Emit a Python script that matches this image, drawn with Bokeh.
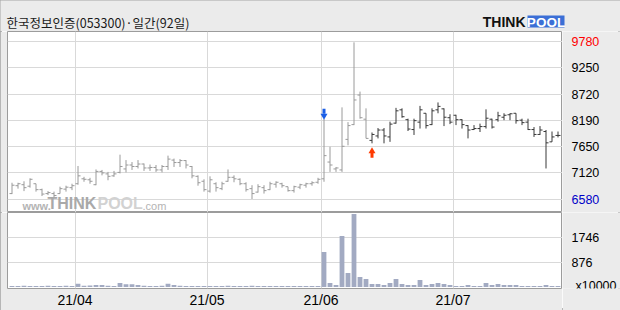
from bokeh.plotting import figure
from bokeh.models import Range1d, FixedTicker, Label, ColumnDataSource
from bokeh.layouts import column, row
from bokeh.core.properties import value
from bokeh.embed import file_html
from bokeh.resources import INLINE

title_text = "한국정보인증(053300)·일간(92일)"
month_idx = [11, 33, 52, 74]
month_labels = ["21/04", "21/05", "21/06", "21/07"]
price_ticks = [6580, 7120, 7650, 8190, 8720, 9250, 9780]
price_tick_colors = ["#0000c8", "#000000", "#000000", "#000000", "#000000", "#000000", "#ff0000"]
vol_ticks = [876, 1746]
vol_unit = "x10000"
sell_idx = [52]
buy_idx = [60]

opens = [
    6700, 6860, 6880, 6850, 6900, 6780, 6700, 6700, 6700, 6790,
    6820, 6900, 7000, 6980, 6880, 7150, 7100, 7060, 7130, 7200,
    7280, 7250, 7300, 7220, 7230, 7180, 7250, 7380, 7330, 7370,
    7250, 7050, 6950, 6750, 6900, 6800, 6950, 7030, 6990, 6900,
    6800, 6730, 6820, 6780, 6890, 6900, 6840, 6760, 6830, 6870,
    6900, 6930, 7000, 7340, 7200, 7180, 7800, 8100, 8700, 8210,
    7780, 7870, 7990, 7850, 8130, 8400, 8200, 8000, 8150, 8330,
    8100, 8400, 8420, 8240, 8290, 8200, 8080, 8000, 8020, 8060,
    8210, 8200, 8250, 8300, 8330, 8190, 8150, 8000, 7900, 7960,
    7750, 7880]
highs = [
    6920, 6920, 6950, 7010, 6900, 6800, 6750, 6740, 6840, 6860,
    6900, 7260, 7040, 7020, 7190, 7180, 7140, 7160, 7490, 7380,
    7340, 7380, 7310, 7290, 7280, 7280, 7470, 7410, 7400, 7380,
    7260, 7070, 6990, 7050, 6930, 6940, 7190, 7070, 7010, 6930,
    6870, 6890, 6870, 6940, 6950, 6920, 6840, 6860, 6900, 6920,
    6950, 7020, 8220, 7650, 7240, 8450, 8150, 9770, 8770, 8430,
    7940, 8030, 8030, 8160, 8440, 8430, 8220, 8220, 8480, 8330,
    8430, 8550, 8430, 8310, 8300, 8210, 8090, 8090, 8120, 8410,
    8220, 8360, 8330, 8330, 8330, 8220, 8220, 8050, 8070, 7990,
    7960, 7960]
lows = [
    6690, 6800, 6750, 6820, 6740, 6650, 6670, 6630, 6700, 6740,
    6770, 6880, 6940, 6900, 6870, 7070, 6970, 7040, 7110, 7130,
    7180, 7210, 7160, 7160, 7140, 7130, 7180, 7240, 7240, 7210,
    7010, 6860, 6740, 6720, 6740, 6770, 6940, 6930, 6870, 6740,
    6590, 6720, 6700, 6770, 6820, 6820, 6740, 6720, 6790, 6820,
    6860, 6900, 6940, 7140, 7140, 7140, 7680, 8090, 8220, 7820,
    7720, 7820, 7720, 7750, 8120, 8240, 7970, 7890, 8020, 8020,
    8090, 8330, 8070, 8110, 8090, 8020, 7820, 7990, 7950, 8020,
    8020, 8160, 8190, 8190, 8120, 8090, 7990, 7850, 7890, 7210,
    7750, 7840]
closes = [
    6870, 6900, 6820, 6990, 6780, 6690, 6720, 6660, 6800, 6830,
    6860, 7060, 6990, 6950, 7150, 7120, 7050, 7100, 7250, 7280,
    7250, 7300, 7220, 7230, 7180, 7250, 7400, 7330, 7370, 7280,
    7060, 6920, 6780, 6980, 6820, 6900, 7030, 7000, 6900, 6780,
    6700, 6840, 6760, 6900, 6930, 6860, 6760, 6840, 6880, 6900,
    6920, 6990, 7470, 7280, 7220, 7660, 8080, 8600, 8240, 7820,
    7900, 7990, 7870, 8110, 8380, 8260, 8010, 8180, 8400, 8080,
    8380, 8470, 8250, 8150, 8200, 8100, 7990, 8020, 8060, 8230,
    8050, 8280, 8290, 8320, 8180, 8140, 8000, 7900, 7990, 7730,
    7850, 7880]
volumes = [
    40, 35, 45, 40, 35, 40, 45, 35, 40, 45,
    40, 118, 45, 50, 70, 70, 45, 40, 141, 94,
    94, 70, 45, 40, 40, 45, 118, 70, 45, 40,
    40, 40, 35, 40, 35, 40, 45, 40, 35, 40,
    45, 40, 35, 40, 35, 35, 40, 35, 35, 40,
    35, 40, 1234, 141, 70, 1798, 493, 2573, 352, 282,
    106, 106, 70, 141, 282, 106, 70, 70, 247, 70,
    106, 141, 106, 70, 35, 35, 70, 35, 35, 141,
    70, 106, 70, 70, 70, 35, 35, 35, 35, 70,
    35, 35]

SANS = "'Liberation Sans', Arial, sans-serif"
KR = "'Noto Sans CJK KR', sans-serif"
BG = "#ebebeb"
GRID = "#d9d9d9"
FRAME = "#9c9c9c"
AXIS_FS = "12.5px"

n = len(closes)
idx = list(range(n))
colors = ["#9a9a9a" if i < buy_idx[0] else "#383838" for i in idx]
src = ColumnDataSource(dict(
    x=idx, o=opens, h=highs, l=lows, c=closes, v=volumes, col=colors,
    xl=[i - 0.42 for i in idx], xr=[i + 0.42 for i in idx]))
month_pos = [m - 0.5 for m in month_idx]


def bare(fig):
    fig.xgrid.grid_line_color = None
    fig.ygrid.grid_line_color = None
    return fig


# ---------------- header (title + logo) ----------------
header = figure(width=620, height=31, x_range=Range1d(0, 620), y_range=Range1d(31, 0),
                output_backend="svg", toolbar_location=None,
                x_axis_location=None, y_axis_location=None,
                min_border=0, background_fill_color=BG, border_fill_color=BG,
                outline_line_color=None)
bare(header)
header.text(x=[6], y=[21.5], text=[title_text], text_font=value(KR),
            text_font_size="12.5px", text_color="#1a1a1a", text_baseline="middle")
header.text(x=[525], y=[21.5], text=["THINK"], text_font=value(SANS), text_font_size="14px",
            text_font_style="bold", text_color="#111111", text_align="right",
            text_baseline="middle")
header.quad(left=[527], right=[564], top=[15], bottom=[27], fill_color="#3b6fd6",
            line_color=None)
header.text(x=[545.5], y=[21.5], text=["POOL"], text_font=value(SANS), text_font_size="13.5px",
            text_font_style="bold", text_color="white", text_align="center",
            text_baseline="middle")

# ---------------- price panel ----------------
x_rng = Range1d(-0.75, n - 0.25)
p_rng = Range1d(6316, 9990)
p1 = figure(width=562, height=181, x_range=x_rng, y_range=p_rng,
            output_backend="svg", toolbar_location=None,
            x_axis_location=None, y_axis_location=None,
            min_border_left=7, min_border_right=0, min_border_top=0, min_border_bottom=0,
            background_fill_color="white", border_fill_color=BG,
            outline_line_color=FRAME)
p1.ygrid.ticker = FixedTicker(ticks=price_ticks)
p1.xgrid.ticker = FixedTicker(ticks=month_pos)
p1.xgrid.grid_line_color = GRID
p1.ygrid.grid_line_color = GRID

# watermark
for txt, xo, yo, size, col, style in [("www.", 15, 7, "11px", "#b4b4b4", "bold"),
                                       ("THINK", 40, 9, "16px", "#a9a9a9", "bold"),
                                       ("POOL", 90, 9, "16px", "#d2d2d2", "bold"),
                                       (".com", 135, 7, "11px", "#b4b4b4", "normal")]:
    p1.add_layout(Label(x=x_rng.start, y=p_rng.start, x_offset=xo, y_offset=yo, text=txt,
                        text_font=SANS, text_font_size=size, text_font_style=style,
                        text_color=col, text_baseline="middle", level="underlay"))

p1.segment(x0="x", y0="l", x1="x", y1="h", line_color="col", line_width=1, source=src)
p1.segment(x0="xl", y0="o", x1="x", y1="o", line_color="col", line_width=1, source=src)
p1.segment(x0="x", y0="c", x1="xr", y1="c", line_color="col", line_width=1, source=src)

# signal arrows
ppw = 181 / (p_rng.end - p_rng.start)
sh = [highs[i] for i in sell_idx]
p1.rect(x=sell_idx, y=[h + 7.5 / ppw for h in sh], width=0.5, height=5, height_units="screen",
        fill_color="#1a5ee6", line_color=None)
p1.scatter(x=sell_idx, y=[h + 3.0 / ppw for h in sh], marker="inverted_triangle", size=7,
           fill_color="#1a5ee6", line_color=None)
bl = [lows[i] for i in buy_idx]
p1.rect(x=buy_idx, y=[l - 12.0 / ppw for l in bl], width=0.5, height=5, height_units="screen",
        fill_color="#ff3a00", line_color=None)
p1.scatter(x=buy_idx, y=[l - 8.0 / ppw for l in bl], marker="triangle", size=7,
           fill_color="#ff3a00", line_color=None)

# price labels (side panel sharing the price scale)
s1 = figure(width=58, height=181, x_range=Range1d(0, 58), y_range=p_rng,
            output_backend="svg", toolbar_location=None,
            x_axis_location=None, y_axis_location=None, min_border=0,
            background_fill_color=BG, border_fill_color=BG, outline_line_color=None)
bare(s1)
s1.text(x=[9] * len(price_ticks), y=price_ticks, text=[str(t) for t in price_ticks],
        text_color=price_tick_colors, text_font=value(SANS), text_font_size=AXIS_FS,
        text_baseline="middle", text_align="left")

# ---------------- volume panel ----------------
v_rng = Range1d(-52, 2624)
p2 = figure(width=562, height=98, x_range=x_rng, y_range=v_rng,
            output_backend="svg", toolbar_location=None, y_axis_location=None,
            min_border_left=7, min_border_right=0, min_border_top=0, min_border_bottom=21,
            background_fill_color="white", border_fill_color=BG,
            outline_line_color=FRAME)
p2.vbar(x="x", top="v", bottom=0, width=0.8, fill_color="#a2aac2", line_color=None, source=src)
p2.ygrid.ticker = FixedTicker(ticks=vol_ticks)
p2.xgrid.ticker = FixedTicker(ticks=month_pos)
p2.xgrid.grid_line_color = GRID
p2.ygrid.grid_line_color = GRID
for ax in p2.xaxis:
    ax.ticker = FixedTicker(ticks=month_pos)
    ax.major_label_overrides = {pos: lab for pos, lab in zip(month_pos, month_labels)}
    ax.axis_line_color = None
    ax.major_tick_line_color = None
    ax.minor_tick_line_color = None
    ax.major_tick_out = 0
    ax.major_tick_in = 0
    ax.major_label_standoff = 3
    ax.major_label_text_font = SANS
    ax.major_label_text_font_size = "14px"
    ax.major_label_text_color = "#000000"

s2 = figure(width=58, height=98, x_range=Range1d(0, 58), y_range=v_rng,
            output_backend="svg", toolbar_location=None,
            x_axis_location=None, y_axis_location=None,
            min_border_left=0, min_border_right=0, min_border_top=0, min_border_bottom=21,
            background_fill_color=BG, border_fill_color=BG, outline_line_color=None)
bare(s2)
s2.text(x=[9] * len(vol_ticks), y=vol_ticks, text=[str(t) for t in vol_ticks],
        text_color="#000000", text_font=value(SANS), text_font_size=AXIS_FS,
        text_baseline="middle", text_align="left")
s2.text(x=[13], y=[0], y_offset=-1, text=[vol_unit], text_color="#000000",
        text_font=value(SANS), text_font_size=AXIS_FS, text_baseline="middle",
        text_align="left")

layout = column(header, row(p1, s1, spacing=0), row(p2, s2, spacing=0), spacing=0,
                styles={"outline": "2px solid #a5a5a5", "outline-offset": "-2px"})
open("out.html", "w").write(file_html(layout, INLINE))
